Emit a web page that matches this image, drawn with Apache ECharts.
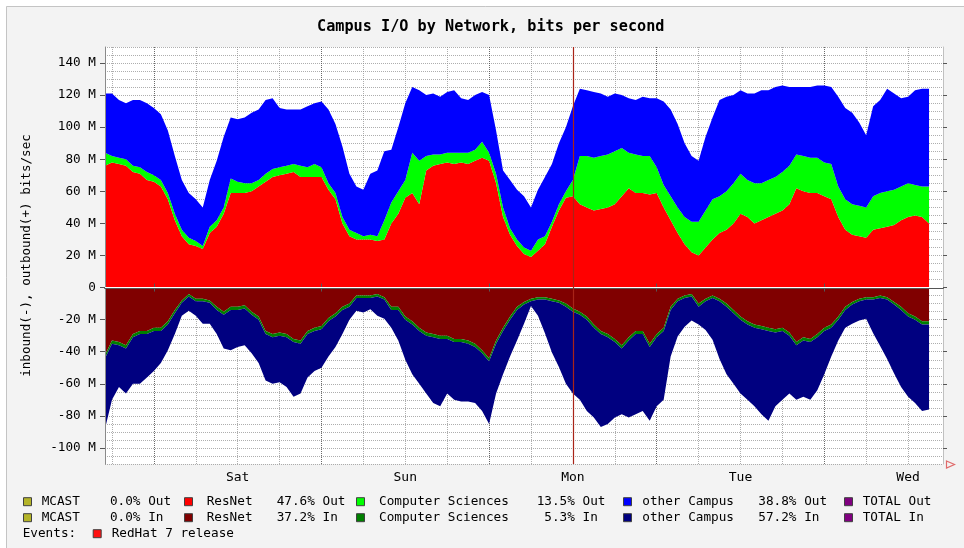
<!DOCTYPE html>
<html><head><meta charset="utf-8">
<script src="https://cdn.jsdelivr.net/npm/echarts@6/dist/echarts.min.js"></script>
<style>html,body{margin:0;padding:0;background:#fff}#c{width:964px;height:548px}</style>
</head><body><div id="c"></div>
<script>
// ---- categories: hours relative to Saturday 00:00 ----
const hours = [-7,-6,-5,-4,-3,-2,-1,0,1,2,3,4,5,6,7,8,9,10,11,12,13,14,15,16,17,18,19,20,21,22,23,24,25,26,27,28,29,30,31,32,33,34,35,36,37,38,39,40,41,42,43,44,45,46,47,48,49,50,51,52,53,54,55,56,57,58,59,60,61,62,63,64,65,66,67,68,69,70,71,72,73,74,75,76,77,78,79,80,81,82,83,84,85,86,87,88,89,90,91,92,93,94,95,96,97,98,99,100,101,102,103,104,105,106,107,108,109,110,111,112,113];
const dayNoon = [12, 36, 60, 84, 108];
const dayLabels = ['Sat', 'Sun', 'Mon', 'Tue', 'Wed'];
const yTickValues = [-100,-80,-60,-40,-20,0,20,40,60,80,100,120,140];

// ---- series values (M bits/sec), hourly from h=-7 to h=111 ----
const resnetOut = [76,78,77,76,72,71,67,
 66,63,55,42,32,27,26,24,34,38,
 46,59,59,59,60,63,66,69,70,71,
 72,69,69,69,69,61,55,40,32,30,
 30,30,29,30,40,46,56,59,52,73,
 76,77,78,77,78,77,79,81,79,65,
 44,33,26,21,19,23,27,38,48,56,
 57,52,50,48,49,50,52,57,62,59,
 59,58,59,50,42,34,27,22,20,25,
 30,34,36,40,46,44,40,42,44,46,
 48,52,62,60,59,59,57,55,44,36,
 33,32,31,36,37,38,39,42,44,45,44,40];
const csOut = [8,4,4,4,4,4,5,
 4,4,4,4,4,4,3,2,4,4,
 4,9,7,6,5,4,5,5,5,5,
 5,7,6,8,6,4,4,4,4,4,
 2,3,3,12,13,14,11,25,27,9,
 7,6,6,7,6,7,7,10,5,6,
 6,4,4,4,4,7,5,3,4,4,
 10,30,32,33,33,33,33,30,22,24,
 23,24,16,14,15,16,17,19,21,23,
 25,23,24,25,25,23,25,23,23,23,
 24,24,21,22,22,22,21,22,19,19,
 19,19,19,21,22,22,22,21,21,19,19,23];
const otherOut = [37,39,36,35,41,42,43,
 42,41,39,36,31,28,26,24,29,37,
 44,38,39,41,44,44,46,44,37,35,
 34,35,38,38,41,46,43,44,35,29,
 29,38,41,43,33,40,48,41,44,38,
 38,36,38,39,34,33,34,31,36,27,
 23,30,31,32,27,31,37,36,38,40,
 46,42,41,41,39,36,36,33,34,34,
 37,36,43,52,54,52,46,41,38,46,
 51,60,59,55,52,54,56,58,56,56,
 54,49,42,43,44,45,48,48,56,57,
 57,52,45,56,58,64,60,55,54,59,61,61];
const resnetIn = [-42,-33,-34,-36,-29,-27,-27,
 -25,-25,-21,-14,-8,-4,-7,-7,-8,-12,
 -15,-12,-12,-11,-15,-18,-27,-29,-28,-29,
 -32,-33,-27,-25,-24,-19,-16,-12,-10,-5,
 -5,-5,-4,-6,-12,-12,-18,-21,-25,-28,
 -29,-30,-30,-32,-32,-33,-35,-39,-44,-33,
 -25,-18,-12,-9,-7,-6,-6,-7,-8,-10,
 -13,-15,-18,-23,-27,-29,-32,-36,-31,-27,
 -27,-35,-29,-25,-12,-7,-5,-4,-10,-7,
 -5,-7,-10,-14,-18,-21,-23,-24,-25,-26,
 -25,-28,-34,-31,-32,-29,-25,-23,-18,-12,
 -9,-7,-6,-6,-5,-6,-9,-12,-16,-18,-21,-21];
const csIn = [-2,-2,-2,-2,-2,-2,-2,
 -2,-2,-2,-2,-1.5,-1.5,-1.5,-1.5,-1.5,-2,
 -2,-2,-2,-2,-2,-2,-2,-2,-2,-2,
 -2,-2,-2,-2,-2,-2,-2,-2,-2,-1.5,
 -1.5,-1.5,-1.5,-1.5,-2,-2,-2,-2,-2,-2,
 -2,-2,-2,-2,-2,-2,-2,-2,-2,-2,
 -2,-2,-2,-1.5,-1.5,-1.5,-1.5,-1.5,-1.5,-2,
 -2,-2,-2,-2,-2,-2,-2,-2,-2,-2,
 -2,-2,-2,-2,-2,-1.5,-1.5,-1.5,-2,-1.5,
 -1.5,-1.5,-2,-2,-2,-2,-2,-2,-2,-2,
 -2,-2,-2,-2,-2,-2,-2,-2,-2,-2,
 -1.5,-1.5,-1.5,-1.5,-1.5,-1.5,-1.5,-2,-2,-2,-2,-2];
const otherIn = [-44,-35,-26,-28,-29,-31,-27,
 -25,-20,-16,-13,-8,-9,-9,-14,-13,-15,
 -21,-25,-23,-23,-24,-27,-29,-29,-29,-31,
 -34,-31,-27,-25,-24,-22,-19,-15,-8,-8,
 -9,-7,-12,-12,-11,-19,-25,-31,-33,-36,
 -41,-42,-34,-36,-37,-36,-35,-36,-39,-31,
 -27,-23,-19,-12,-3,-10,-21,-32,-40,-48,
 -51,-53,-57,-56,-58,-54,-47,-41,-48,-50,
 -48,-46,-43,-43,-29,-22,-18,-15,-11,-18,
 -26,-36,-42,-44,-46,-47,-49,-53,-56,-46,
 -43,-36,-34,-35,-36,-33,-27,-18,-13,-11,
 -12,-12,-12,-21,-30,-37,-43,-48,-50,-52,-54,-53];

// ---- legend / events ----
const netNames = ['MCAST', 'ResNet', 'Computer Sciences', 'other Campus'];
const outPct = ['0.0%', '47.6%', '13.5%', '38.8%'];
const inPct = ['0.0%', '37.2%', '5.3%', '57.2%'];
const outColors = ['#b4b428', '#ff0000', '#00ff00', '#0000ff'];
const inColors = ['#b4b428', '#800000', '#008000', '#000080'];
const totalColor = '#800080';
const eventHours = [60];
const eventNames = ['RedHat 7 release'];
const eventColor = '#ff1010';

const chart = echarts.init(document.getElementById('c'), null, {renderer: 'canvas'});
const cats = hours.map(String);
const MONO = '"DejaVu Sans Mono", monospace';
const isMidnight = (i, v) => (+v) % 24 === 0;
const isSixHour = (i, v) => (+v) % 6 === 0 && (+v) % 24 !== 0;

function area(name, stack, data, color) {
  return {
    name, type: 'line', stack, data, color,
    symbol: 'none', showSymbol: false,
    lineStyle: {width: 0}, areaStyle: {color, opacity: 1},
    xAxisIndex: 0, yAxisIndex: 0, animation: false, silent: true
  };
}

const series = [
  area('ResNet Out', 'out', resnetOut, outColors[1]),
  area('Computer Sciences Out', 'out', csOut, outColors[2]),
  area('other Campus Out', 'out', otherOut, outColors[3]),
  area('ResNet In', 'in', resnetIn, inColors[1]),
  area('Computer Sciences In', 'in', csIn, inColors[2]),
  area('other Campus In', 'in', otherIn, inColors[3])
];
series[series.length - 1].markLine = {
  silent: true, symbol: ['none', 'none'], animation: false,
  label: {show: false},
  data: [{yAxis: 0, lineStyle: {color: '#ffffff', width: 1, type: 'solid'}}]
    .concat(eventHours.map(h => ({xAxis: String(h), lineStyle: {color: '#a82418', width: 1.2, type: 'solid'}})))
};

// legend graphics
const rowY = [501.7, 517.7, 533.7];
const boxX = [23, 184, 356, 623, 844];
const nameX = [41.7, 206.7, 379, 642.3, 862.7];
const pctX = [102.3, 276.7, 536.7, 758.3];
const legendFont = '12.7px ' + MONO;
const graphics = [
  {type: 'rect', shape: {x: 0, y: 0, width: 964, height: 6}, style: {fill: '#ffffff'}, silent: true},
  {type: 'rect', shape: {x: 0, y: 0, width: 6, height: 548}, style: {fill: '#ffffff'}, silent: true},
  {type: 'line', shape: {x1: 6.5, y1: 6.5, x2: 964, y2: 6.5}, style: {stroke: '#c4c4c4', lineWidth: 1}, silent: true},
  {type: 'line', shape: {x1: 6.5, y1: 6.5, x2: 6.5, y2: 548}, style: {stroke: '#c4c4c4', lineWidth: 1}, silent: true},
  {type: 'polygon', shape: {points: [[946.5, 461], [954.5, 464.5], [946.5, 468]]}, style: {fill: 'none', stroke: '#e06a6a', lineWidth: 1.2}, silent: true}
];
function box(x, y, color) {
  graphics.push({type: 'rect', shape: {x: x + 0.5, y: y - 4, width: 8, height: 8}, style: {fill: color, stroke: '#404040', lineWidth: 1}, silent: true});
}
function txt(x, y, t) {
  graphics.push({type: 'text', x: x, y: y, style: {text: t, font: legendFont, fill: '#000', align: 'left', verticalAlign: 'middle'}, silent: true});
}
[['Out', outPct, outColors], ['In', inPct, inColors]].forEach((row, r) => {
  const y = rowY[r];
  for (let k = 0; k < netNames.length; k++) {
    box(boxX[k], y, row[2][k]);
    txt(nameX[k], y, netNames[k]);
    txt(pctX[k], y, row[1][k].padStart(5, ' ') + ' ' + row[0]);
  }
  box(boxX[4], y, totalColor);
  txt(nameX[4], y, 'TOTAL ' + row[0]);
});
txt(22.7, rowY[2], 'Events:');
eventNames.forEach((n, i) => { box(92.7, rowY[2], eventColor); txt(111.7, rowY[2], n); });

const gridLight = 'rgba(140,140,140,0.7)';
const gridDark = 'rgba(80,80,80,0.85)';

chart.setOption({
  backgroundColor: '#f3f3f3',
  animation: false,
  title: {
    text: 'Campus I/O by Network, bits per second',
    left: 312, top: 15,
    textStyle: {fontFamily: MONO, fontWeight: 'bold', fontSize: 15.2, color: '#000'}
  },
  grid: {left: 105, right: 21, top: 47, bottom: 84, show: true, backgroundColor: '#ffffff', borderWidth: 0},
  xAxis: [
    {
      type: 'category', data: cats, boundaryGap: false, position: 'bottom', z: 3,
      axisLine: {lineStyle: {color: '#555555', width: 2}},
      axisTick: {show: true, interval: isMidnight, length: 4, lineStyle: {color: '#555555'}},
      axisLabel: {
        interval: (i, v) => dayNoon.includes(+v),
        formatter: v => dayLabels[dayNoon.indexOf(+v)] || '',
        fontFamily: MONO, fontSize: 13, color: '#000', margin: 7
      },
      splitLine: {show: true, interval: isSixHour, lineStyle: {color: gridLight, type: [1, 1], width: 1}}
    },
    {
      type: 'category', data: cats, boundaryGap: false, position: 'top', z: 3,
      axisLine: {lineStyle: {color: '#c0c0c0', width: 1}},
      axisTick: {show: true, interval: isMidnight, length: 4, lineStyle: {color: '#555555'}},
      axisLabel: {show: false},
      splitLine: {show: true, interval: isMidnight, lineStyle: {color: gridDark, type: [1, 1], width: 1}}
    }
  ],
  yAxis: [
    {
      type: 'value', min: -110, max: 150, interval: 5, position: 'left', z: 3,
      name: 'inbound(-), outbound(+) bits/sec', nameLocation: 'middle', nameGap: 72,
      nameTextStyle: {fontFamily: MONO, fontSize: 12.6, color: '#000'},
      axisLine: {show: true, lineStyle: {color: '#8a8a8a', width: 1}},
      axisTick: {show: false},
      axisLabel: {
        formatter: v => (v % 20 === 0 ? (v === 0 ? '0' : v + ' M') : ''),
        fontFamily: MONO, fontSize: 12.7, color: '#000', margin: 9
      },
      splitLine: {show: true, lineStyle: {color: gridLight, type: [1, 1], width: 1}}
    },
    {
      type: 'value', min: -110, max: 150, interval: 5, position: 'right', z: 3,
      axisLine: {show: true, lineStyle: {color: '#c0c0c0', width: 1}},
      axisTick: {show: false}, axisLabel: {show: false}, splitLine: {show: false}
    },
    {
      type: 'value', min: -110, max: 150, position: 'left', z: 3,
      axisLine: {show: false}, axisLabel: {show: false}, splitLine: {show: false},
      axisTick: {show: true, customValues: yTickValues, length: 5, lineStyle: {color: '#555555'}}
    },
    {
      type: 'value', min: -110, max: 150, position: 'right', z: 3,
      axisLine: {show: false}, axisLabel: {show: false}, splitLine: {show: false},
      axisTick: {show: true, customValues: yTickValues, length: 4, lineStyle: {color: '#555555'}}
    }
  ],
  series: series,
  graphic: graphics
});
</script></body></html>
